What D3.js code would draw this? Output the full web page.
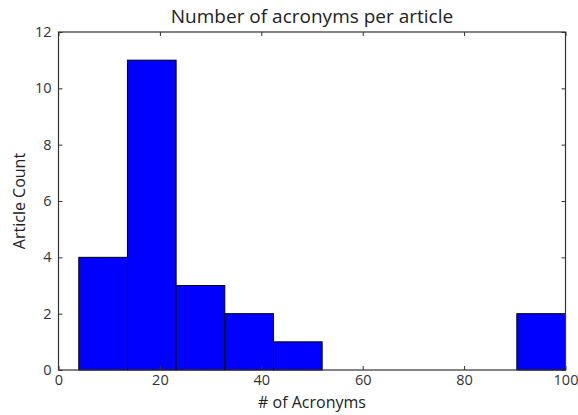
<!DOCTYPE html>
<html>
<head>
<meta charset="utf-8">
<script src="https://cdn.jsdelivr.net/npm/d3@7"></script>
<style>
  html, body { margin: 0; padding: 0; background: #fff; }
  svg { display: block; font-family: "Open Sans", sans-serif; }
</style>
</head>
<body>
<svg id="chart" width="578" height="415"></svg>
<script>
// Histogram bins: lower edge, upper edge and article count
const binStarts = [4, 13.6, 23.2, 32.8, 42.4, 52, 61.6, 71.2, 80.8, 90.4];
const binEnds   = [13.6, 23.2, 32.8, 42.4, 52, 61.6, 71.2, 80.8, 90.4, 100];
const counts    = [4, 11, 3, 2, 1, 0, 0, 0, 0, 2];
const xTicks = [0, 20, 40, 60, 80, 100];
const yTicks = [0, 2, 4, 6, 8, 10, 12];

const svg = d3.select("#chart");
const m = { left: 58.5, right: 12.5, top: 32, bottom: 45 };
const W = 578, H = 415;

const x = d3.scaleLinear().domain([0, 100]).range([m.left, W - m.right]);
const y = d3.scaleLinear().domain([0, 12]).range([H - m.bottom, m.top]);

const bins = binStarts.map((s, i) => ({ x0: s, x1: binEnds[i], n: counts[i] }));

svg.append("g").selectAll("rect")
  .data(bins.filter(d => d.n > 0))
  .join("rect")
  .attr("x", d => x(d.x0))
  .attr("y", d => y(d.n))
  .attr("width", d => x(d.x1) - x(d.x0))
  .attr("height", d => y(0) - y(d.n))
  .attr("fill", "#0000ff")
  .attr("stroke", "#000")
  .attr("stroke-width", 1);

// Axes with inward ticks on all four sides
const tickLen = 4;
const fmt = d3.format("d");
const axBottom = svg.append("g").attr("transform", `translate(0,${y(0)})`)
  .call(d3.axisBottom(x).tickValues(xTicks).tickFormat(fmt).tickSize(-tickLen).tickPadding(5));
const axTop = svg.append("g").attr("transform", `translate(0,${y(12)})`)
  .call(d3.axisTop(x).tickValues(xTicks).tickFormat("").tickSize(-tickLen));
const axLeft = svg.append("g").attr("transform", `translate(${x(0)},0)`)
  .call(d3.axisLeft(y).tickValues(yTicks).tickFormat(fmt).tickSize(-tickLen).tickPadding(7));
const axRight = svg.append("g").attr("transform", `translate(${x(100)},0)`)
  .call(d3.axisRight(y).tickValues(yTicks).tickFormat("").tickSize(-tickLen));

[axBottom, axTop, axLeft, axRight].forEach(g => {
  g.select(".domain").remove();
  g.selectAll("line").attr("stroke", "#333");
  g.selectAll("text").attr("fill", "#333").style("font-size", "14.5px")
    .style("font-family", "'Open Sans', sans-serif");
});

// Frame
svg.append("rect")
  .attr("x", x(0)).attr("y", y(12))
  .attr("width", x(100) - x(0)).attr("height", y(0) - y(12))
  .attr("fill", "none").attr("stroke", "#333").attr("stroke-width", 1.2);

svg.append("text")
  .attr("x", (x(0) + x(100)) / 2).attr("y", 23)
  .attr("text-anchor", "middle")
  .attr("fill", "#222")
  .style("font-size", "19px")
  .text("Number of acronyms per article");

svg.append("text")
  .attr("x", (x(0) + x(100)) / 2).attr("y", 408)
  .attr("text-anchor", "middle")
  .attr("fill", "#222")
  .style("font-size", "16px")
  .text("# of Acronyms");

svg.append("text")
  .attr("transform", `translate(25,${(y(0) + y(12)) / 2}) rotate(-90)`)
  .attr("text-anchor", "middle")
  .attr("fill", "#222")
  .style("font-size", "16px")
  .text("Article Count");
</script>
</body>
</html>
